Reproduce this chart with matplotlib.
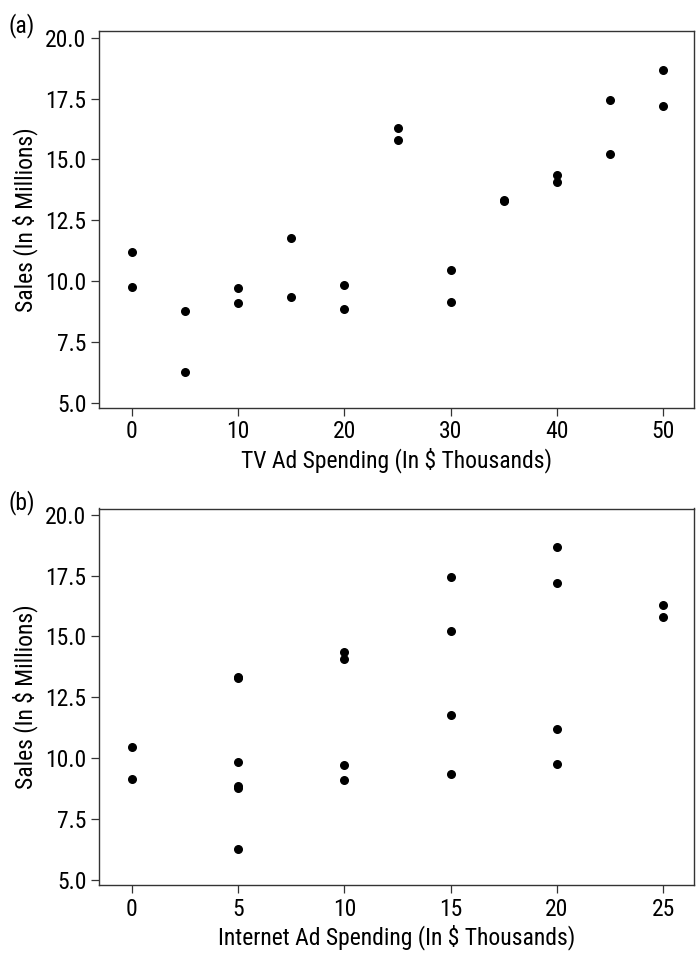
import matplotlib
matplotlib.use("Agg")
import matplotlib.pyplot as plt

plt.rcParams["font.family"] = ["Roboto Condensed", "Archivo Narrow", "DejaVu Sans"]

# one observation per store: TV spend, internet spend, sales
tv_spend = [0, 0, 5, 5, 10, 10, 15, 15, 20, 20, 25, 25,
            30, 30, 35, 35, 40, 40, 45, 45, 50, 50]
web_spend = [20, 20, 5, 5, 10, 10, 15, 15, 5, 5, 25, 25,
             0, 0, 5, 5, 10, 10, 15, 15, 20, 20]
sales = [11.22, 9.77, 8.78, 6.27, 9.74, 9.12, 11.78, 9.34, 9.84, 8.86, 16.29, 15.80,
         10.48, 9.16, 13.30, 13.33, 14.37, 14.07, 17.44, 15.22, 18.67, 17.19]

y_ticks = [5.0, 7.5, 10.0, 12.5, 15.0, 17.5, 20.0]

panels = [
    {"x": tv_spend, "tag": "(a)", "xlabel": "TV Ad Spending (In $ Thousands)",
     "xticks": [0, 10, 20, 30, 40, 50], "xlim": (-3.1, 52.9)},
    {"x": web_spend, "tag": "(b)", "xlabel": "Internet Ad Spending (In $ Thousands)",
     "xticks": [0, 5, 10, 15, 20, 25], "xlim": (-1.55, 26.45)},
]

fig = plt.figure(figsize=(6.97, 9.55), dpi=100)
W, H = 697, 955
boxes = [(99, 31.5, 694, 408), (99, 508.5, 694, 885)]

for p, (l, t, r, b) in zip(panels, boxes):
    ax = fig.add_axes([l / W, 1 - b / H, (r - l) / W, (b - t) / H])
    ax.scatter(p["x"], sales, s=30, color="black", zorder=3)
    ax.set_xlim(*p["xlim"])
    ax.set_ylim(4.8, 20.25)
    ax.set_xticks(p["xticks"])
    ax.set_yticks(y_ticks)
    ax.set_yticklabels([f"{v:.1f}" for v in y_ticks])
    ax.tick_params(direction="out", length=6, width=0.9, labelsize=17, pad=3, color="#333333")
    for sp in ax.spines.values():
        sp.set_linewidth(1.0)
        sp.set_color("#333333")
    ax.set_xlabel(p["xlabel"], fontsize=17, labelpad=3)
    ax.set_ylabel("Sales (In $ Millions)", fontsize=17, labelpad=5)
    fig.text(8 / W, 1 - (t - 5.5) / H, p["tag"], fontsize=17, va="center", ha="left")

fig.savefig("out.png", dpi=100)
